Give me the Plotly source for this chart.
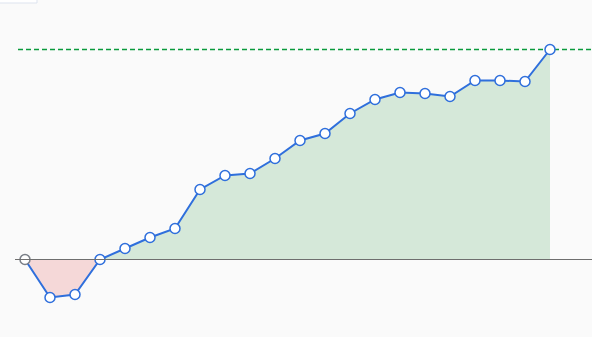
import plotly.graph_objects as go

periods = list(range(22))
values = [0.0, -7.6, -7.0, 0.0, 2.2, 4.4, 6.2, 14.0, 16.8, 17.2, 20.2, 23.8,
          25.2, 29.2, 32.0, 33.4, 33.2, 32.6, 35.8, 35.8, 35.6, 42.0]
target = max(values)

pos = [max(v, 0) for v in values]
neg = [min(v, 0) for v in values]

BLUE = "#2f6fdc"
fig = go.Figure()
fig.add_trace(go.Scatter(x=periods, y=pos, mode="lines", line=dict(width=0),
                         fill="tozeroy", fillcolor="#d5e8d9", hoverinfo="skip"))
fig.add_trace(go.Scatter(x=periods[:4], y=neg[:4], mode="lines", line=dict(width=0),
                         fill="tozeroy", fillcolor="#f5d8d8", hoverinfo="skip"))
fig.add_shape(type="line", xref="paper", yref="y", x0=15/592, x1=1, y0=0, y1=0,
              line=dict(color="#6e6e6e", width=1))
fig.add_shape(type="line", xref="paper", yref="y", x0=18/592, x1=1, y0=target, y1=target,
              layer="below",
              line=dict(color="#0a9a3c", width=1.3, dash="5px,3px"))
outline = ["#7a7f87"] + [BLUE] * (len(values) - 1)
fig.add_trace(go.Scatter(x=periods, y=values, mode="lines+markers",
                         line=dict(color=BLUE, width=2),
                         marker=dict(size=10, color="white",
                                     line=dict(color=outline, width=1.5))))
fig.add_shape(type="rect", xref="paper", yref="paper", x0=-5/592, x1=37/592,
              y0=1 - 3/337, y1=1.05, fillcolor="white",
              line=dict(color="#dde3ee", width=1))

fig.update_layout(
    width=592, height=337, margin=dict(l=0, r=0, t=0, b=0),
    paper_bgcolor="#fafafa", plot_bgcolor="#fafafa", showlegend=False,
    xaxis=dict(range=[-1, 22.68], visible=False, showgrid=False, zeroline=False),
    yaxis=dict(range=[-15.5, 51.9], visible=False, showgrid=False, zeroline=False),
)
fig.write_html("out.html")
